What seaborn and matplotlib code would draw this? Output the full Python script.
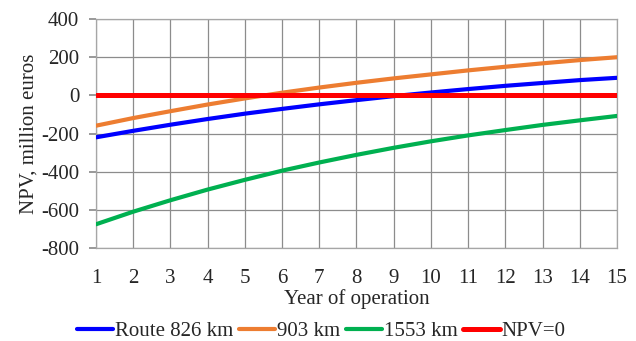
import matplotlib

matplotlib.use("Agg")
import matplotlib.pyplot as plt
import pandas as pd
import seaborn as sns

# Valores (millones de euros)
years = list(range(1, 16))
route_826 = [-220, -186, -154, -124, -96, -71, -47, -25, -4, 15, 33, 50, 65, 80, 92]
route_903 = [-159, -119, -83, -48, -16, 14, 41, 66, 89, 110, 131, 150, 168, 185, 200]
route_1553 = [-676, -610, -550, -494, -443, -395, -352, -312, -275, -241, -210, -182, -155, -131, -108]
npv_zero = [0] * 15

series_names = ["Route 826 km", "903 km", "1553 km", "NPV=0"]
series_values = [route_826, route_903, route_1553, npv_zero]
colors = ["#0000FF", "#ED7D31", "#00B050", "#FF0000"]
widths = [3.0, 3.0, 3.0, 3.6]

rows = []
for name, vals in zip(series_names, series_values):
    for y, v in zip(years, vals):
        rows.append({"year": y, "npv": v, "series": name})
df = pd.DataFrame(rows)

sns.set_theme(style="white")
plt.rcParams["font.family"] = ["Liberation Serif", "DejaVu Serif"]
plt.rcParams["axes.unicode_minus"] = False

fig = plt.figure(figsize=(6.36, 3.41), dpi=100)
ax = fig.add_axes([0.151, 0.273, 0.819, 0.671])

for name, col, lw in zip(series_names, colors, widths):
    sns.lineplot(
        data=df[df["series"] == name],
        x="year",
        y="npv",
        color=col,
        linewidth=lw,
        label=name,
        ax=ax,
        legend=False,
        zorder=3,
    )

ax.set_xlim(1, 15)
ax.set_ylim(-800, 400)
ax.set_xticks(years)
ax.set_yticks(range(-800, 401, 200))
ax.grid(True, color="#8c8c8c", linewidth=0.9)
for sp in ax.spines.values():
    sp.set_color("#a6a6a6")
    sp.set_linewidth(0.9)

ax.tick_params(axis="y", which="both", left=True, length=5, color="#8c8c8c", labelsize=15, pad=7)
ax.tick_params(axis="x", bottom=False, labelsize=15, pad=9)
ax.set_xlabel("Year of operation", fontsize=15, labelpad=1)
ax.set_ylabel("NPV, million euros", fontsize=15, labelpad=2)

handles, labels = ax.get_legend_handles_labels()
fig.legend(
    handles,
    labels,
    loc="lower center",
    bbox_to_anchor=(0.505, 0.0),
    ncol=4,
    frameon=False,
    fontsize=15,
    borderpad=0.0,
    borderaxespad=0.0,
    handlelength=1.75,
    handletextpad=0.1,
    columnspacing=0.25,
)

fig.savefig("out.png", dpi=100)
